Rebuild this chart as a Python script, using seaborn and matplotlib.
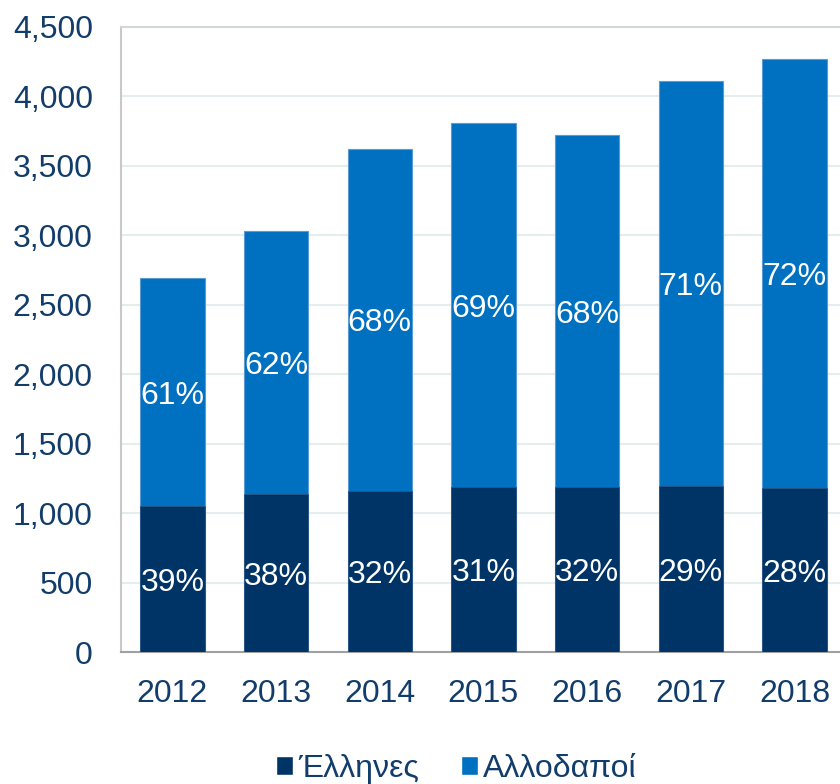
import matplotlib
matplotlib.use('Agg')
import matplotlib.pyplot as plt
from matplotlib.patches import Patch
from matplotlib.ticker import FuncFormatter
import seaborn as sns
import pandas as pd

# Data
years = ['2012', '2013', '2014', '2015', '2016', '2017', '2018']
greeks = [1052, 1136, 1162, 1187, 1187, 1198, 1180]
foreigners = [1638, 1895, 2458, 2618, 2532, 2909, 3086]
greek_pct = ['39%', '38%', '32%', '31%', '32%', '29%', '28%']
foreign_pct = ['61%', '62%', '68%', '69%', '68%', '71%', '72%']
legend_labels = ['Έλληνες', 'Αλλοδαποί']

df = pd.DataFrame({'year': years, 'greek': greeks, 'foreign': foreigners})
df['total'] = df['greek'] + df['foreign']

navy = '#003466'
blue = '#0070c0'
text_color = '#123d6b'
fs = 23

sns.set_style('white')
plt.rcParams['font.family'] = ['Liberation Sans', 'DejaVu Sans']

fig = plt.figure(figsize=(8.4, 7.84), dpi=100)
ax = fig.add_axes([0.1435, 0.168, 0.864, 0.798])

# stacked bars: draw totals, then the lower part on top
sns.barplot(data=df, x='year', y='total', color=blue, saturation=1, width=0.62,
            edgecolor='#5b9bd5', linewidth=0.8, ax=ax, zorder=2)
sns.barplot(data=df, x='year', y='greek', color=navy, saturation=1, width=0.62,
            edgecolor='#2a5585', linewidth=0.6, ax=ax, zorder=3)

for i, row in df.iterrows():
    ax.text(i, row['greek'] / 2, greek_pct[i], ha='center', va='center_baseline',
            color='white', fontsize=fs, zorder=4)
    ax.text(i, row['greek'] + row['foreign'] / 2, foreign_pct[i], ha='center',
            va='center_baseline', color='white', fontsize=fs, zorder=4)

ax.set_ylim(0, 4500)
ax.set_yticks(range(0, 4501, 500))
ax.yaxis.set_major_formatter(FuncFormatter(lambda v, p: f'{int(v):,}'))
ax.set_xlim(-0.5, 6.5)
ax.set_xlabel('')
ax.set_ylabel('')

ax.grid(axis='y', color='#e4eeee', linewidth=1.5, zorder=0)
ax.set_axisbelow(True)

ax.spines['top'].set_color('#d2d8d8')
ax.spines['top'].set_linewidth(1.5)
ax.spines['left'].set_color('#c8c8c8')
ax.spines['left'].set_linewidth(1.5)
ax.spines['right'].set_visible(False)
ax.spines['bottom'].set_color('#a0a0a0')
ax.spines['bottom'].set_linewidth(1.5)

# category boundary ticks on x axis
ax.set_xticks([i for i in range(len(years))])
ax.set_xticklabels(years)
ax.set_xticks([i - 0.5 for i in range(len(years) + 1)], minor=True)
ax.tick_params(axis='x', which='major', length=0, pad=19, labelsize=fs,
               labelcolor=text_color)
ax.tick_params(axis='x', which='minor', length=7, width=1.5, color='#a0a0a0',
               direction='out')
ax.tick_params(axis='y', length=0, pad=20, labelsize=fs, labelcolor=text_color)

handles = [Patch(facecolor=navy), Patch(facecolor=blue)]
fig.legend(handles, legend_labels, loc='center', bbox_to_anchor=(0.543, 0.019),
           ncol=2, frameon=False, fontsize=fs, labelcolor=text_color,
           handlelength=0.55, handleheight=0.55, handletextpad=0.15,
           columnspacing=1.3)

fig.savefig('out.png', dpi=100)
